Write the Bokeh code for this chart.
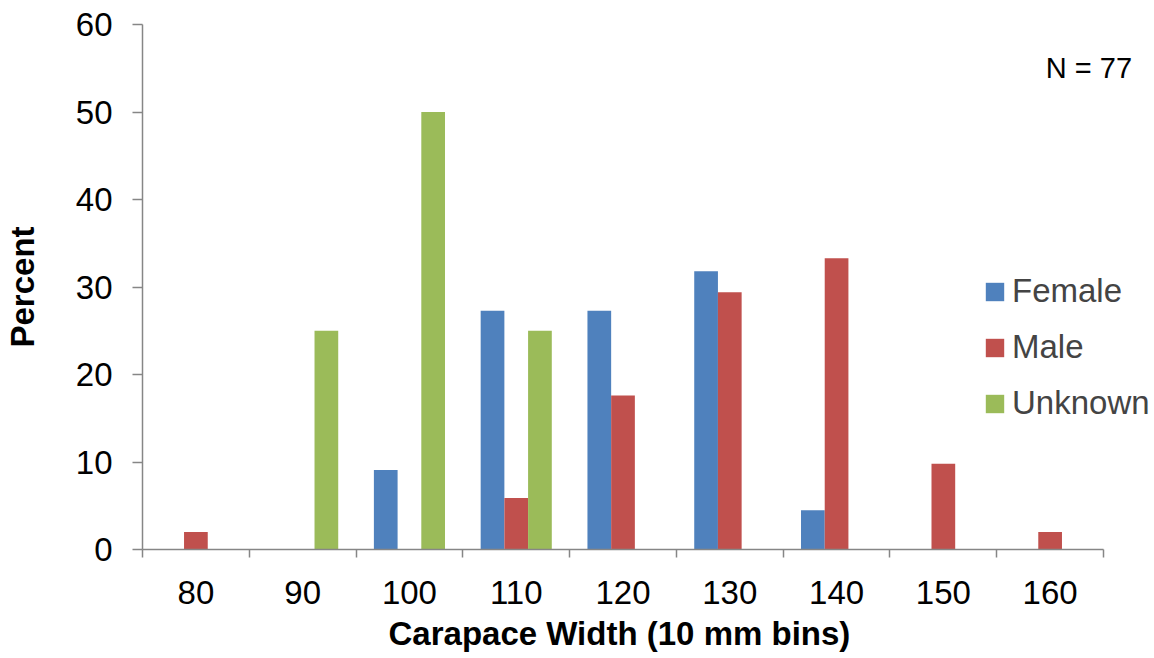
from bokeh.plotting import figure
from bokeh.models import ColumnDataSource, FixedTicker, Legend, LegendItem, Label, Title
from bokeh.transform import dodge
from bokeh.embed import file_html
from bokeh.resources import INLINE

categories = ["80", "90", "100", "110", "120", "130", "140", "150", "160"]
female = [0, 0, 9.1, 27.3, 27.3, 31.8, 4.5, 0, 0]
male = [2.0, 0, 0, 5.9, 17.6, 29.4, 33.3, 9.8, 2.0]
unknown = [0, 25.0, 50.0, 25.0, 0, 0, 0, 0, 0]
y_ticks = [0, 10, 20, 30, 40, 50, 60]

FONT = "Liberation Sans"
AX = "#868686"

n = len(categories)
centers = [i + 0.5 for i in range(n)]
src = ColumnDataSource(dict(x=centers, female=female, male=male, unknown=unknown))

p = figure(width=1152, height=657, output_backend="svg", toolbar_location=None,
           x_range=(0, n + 0.44), y_range=(0, 60),
           min_border_left=140, min_border_right=2, min_border_top=24, min_border_bottom=108)
p.outline_line_color = None
p.xgrid.visible = False
p.ygrid.visible = False

bw = 0.222
r_f = p.vbar(x=dodge("x", -bw, range=p.x_range), top="female", width=bw, source=src,
             fill_color="#4F81BD", line_color=None)
r_m = p.vbar(x="x", top="male", width=bw, source=src,
             fill_color="#C0504D", line_color=None)
r_u = p.vbar(x=dodge("x", bw, range=p.x_range), top="unknown", width=bw, source=src,
             fill_color="#9BBB59", line_color=None)

# x axis
xa = p.xaxis[0]
xa.bounds = (0, n)
xa.ticker = FixedTicker(ticks=centers, minor_ticks=list(range(n + 1)))
xa.major_label_overrides = {c: lab for c, lab in zip(centers, categories)}
xa.major_tick_out = 0
xa.major_tick_in = 0
xa.minor_tick_out = 8
xa.minor_tick_in = 0
xa.minor_tick_line_color = AX
xa.minor_tick_line_width = 1.5
xa.axis_line_color = AX
xa.axis_line_width = 1.5
xa.major_label_text_font = FONT
xa.major_label_text_font_size = "33px"
xa.major_label_text_color = "black"
xa.major_label_standoff = 23

# y axis
ya = p.yaxis[0]
ya.ticker = FixedTicker(ticks=y_ticks, minor_ticks=[])
ya.major_tick_out = 10
ya.major_tick_in = 0
ya.major_tick_line_color = AX
ya.major_tick_line_width = 1.5
ya.axis_line_color = AX
ya.axis_line_width = 1.5
ya.major_label_text_font = FONT
ya.major_label_text_font_size = "33px"
ya.major_label_text_color = "black"
ya.major_label_standoff = 20
ya.axis_label = "Percent"
ya.axis_label_text_font = FONT
ya.axis_label_text_font_size = "33px"
ya.axis_label_text_font_style = "bold"
ya.axis_label_text_color = "black"
ya.axis_label_standoff = 32

xt = Title(text="Carapace Width (10 mm bins)", align="left", offset=246,
           text_font=FONT, text_font_size="33px", text_font_style="bold",
           text_color="black", standoff=12)
p.add_layout(xt, "below")

legend = Legend(items=[LegendItem(label="Female", renderers=[r_f]),
                       LegendItem(label="Male", renderers=[r_m]),
                       LegendItem(label="Unknown", renderers=[r_u])],
                location=(841, 127), orientation="vertical",
                glyph_width=23, glyph_height=23, label_standoff=6,
                spacing=18, padding=0, margin=0,
                label_text_font=FONT, label_text_font_size="33px",
                border_line_color=None, background_fill_alpha=0)
p.add_layout(legend, "center")

p.add_layout(Label(x=8.46, y=55, text="N = 77", text_font=FONT, text_font_size="29px",
                   text_baseline="middle", text_color="black"))

open("out.html", "w").write(file_html(p, INLINE))
